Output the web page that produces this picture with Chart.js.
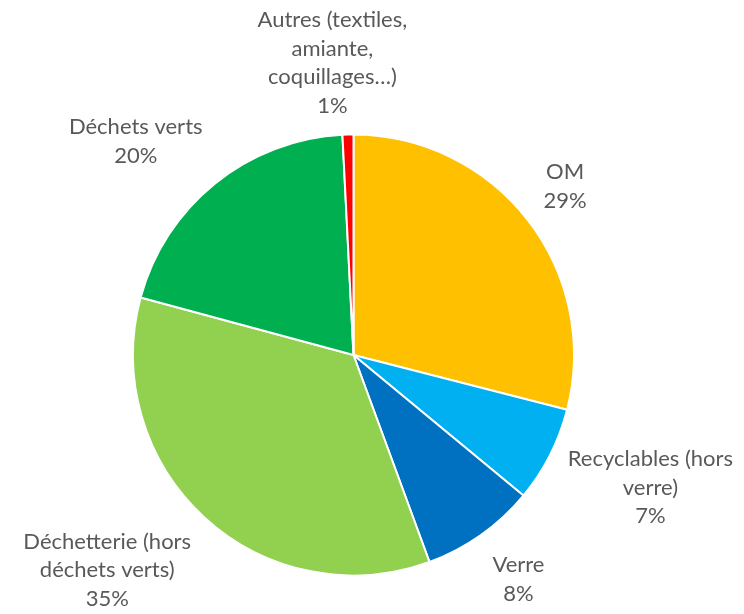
<!DOCTYPE html>
<html>
<head>
<meta charset="utf-8">
<script src="https://cdn.jsdelivr.net/npm/chart.js@4/dist/chart.umd.min.js"></script>
<style>
  html, body { margin: 0; padding: 0; background: #fff; }
  #wrap { width: 744px; height: 614px; position: relative; }
</style>
</head>
<body>
<div id="wrap"><canvas id="chart"></canvas></div>
<script>
// data (clockwise from 12 o'clock)
const categories = [
    ["OM"],
    ["Recyclables (hors", "verre)"],
    ["Verre"],
    ["Déchetterie (hors", "déchets verts)"],
    ["Déchets verts"],
    ["Autres (textiles,", "amiante,", "coquillages…)"]
];
const shares = [29.0, 7.0, 8.4, 34.8, 20.0, 0.8];
const sliceColors = ["#FFC000", "#00B0F0", "#0070C0", "#92D050", "#00B050", "#FF0000"];

const FONT = "22px Lato";
const LINE_H = 28.5;

// excel-like outside-end labels: anchor just off the rim on the slice's middle ray,
// text box hangs off the anchor on the side facing away from the pie
const outsideLabels = {
    id: "outsideLabels",
    afterDraw(chart) {
        const ctx = chart.ctx;
        const meta = chart.getDatasetMeta(0);
        const total = shares.reduce((a, b) => a + b, 0);
        ctx.save();
        ctx.font = FONT;
        ctx.fillStyle = "#595959";
        ctx.textAlign = "center";
        ctx.textBaseline = "middle";
        meta.data.forEach(function (arc, i) {
            const lines = categories[i].concat([Math.round(shares[i] / total * 100) + "%"]);
            const w = Math.max.apply(null, lines.map(l => ctx.measureText(l).width));
            const h = lines.length * LINE_H;
            const mid = (arc.startAngle + arc.endAngle) / 2;
            const s = Math.cos(mid), c = Math.sin(mid); // s: horizontal, c: vertical (canvas y down)
            const r = arc.outerRadius + 20;
            const ax = arc.x + r * s, ay = arc.y + r * c;
            const fx = Math.max(-1, Math.min(1, s * 8));
            let x = ax + fx * w / 2;
            let y = ay + c * h / 2 * 1.2;
            x = Math.min(Math.max(x, w / 2 + 2), chart.width - w / 2 - 2);
            y = Math.min(Math.max(y, h / 2 + 6), chart.height - h / 2 + 4);
            lines.forEach(function (l, k) {
                ctx.fillText(l, x, y - h / 2 + LINE_H / 2 + k * LINE_H);
            });
        });
        ctx.restore();
    }
};

new Chart(document.getElementById("chart"), {
    type: "pie",
    data: {
        labels: categories.map(c => c.join(" ")),
        datasets: [{
            data: shares,
            backgroundColor: sliceColors,
            borderColor: "#ffffff",
            borderWidth: 2
        }]
    },
    options: {
        responsive: true,
        maintainAspectRatio: false,
        animation: false,
        layout: { padding: { left: 132, right: 169, top: 133, bottom: 37 } },
        plugins: {
            legend: { display: false },
            tooltip: { enabled: false }
        }
    },
    plugins: [outsideLabels]
});
</script>
</body>
</html>
